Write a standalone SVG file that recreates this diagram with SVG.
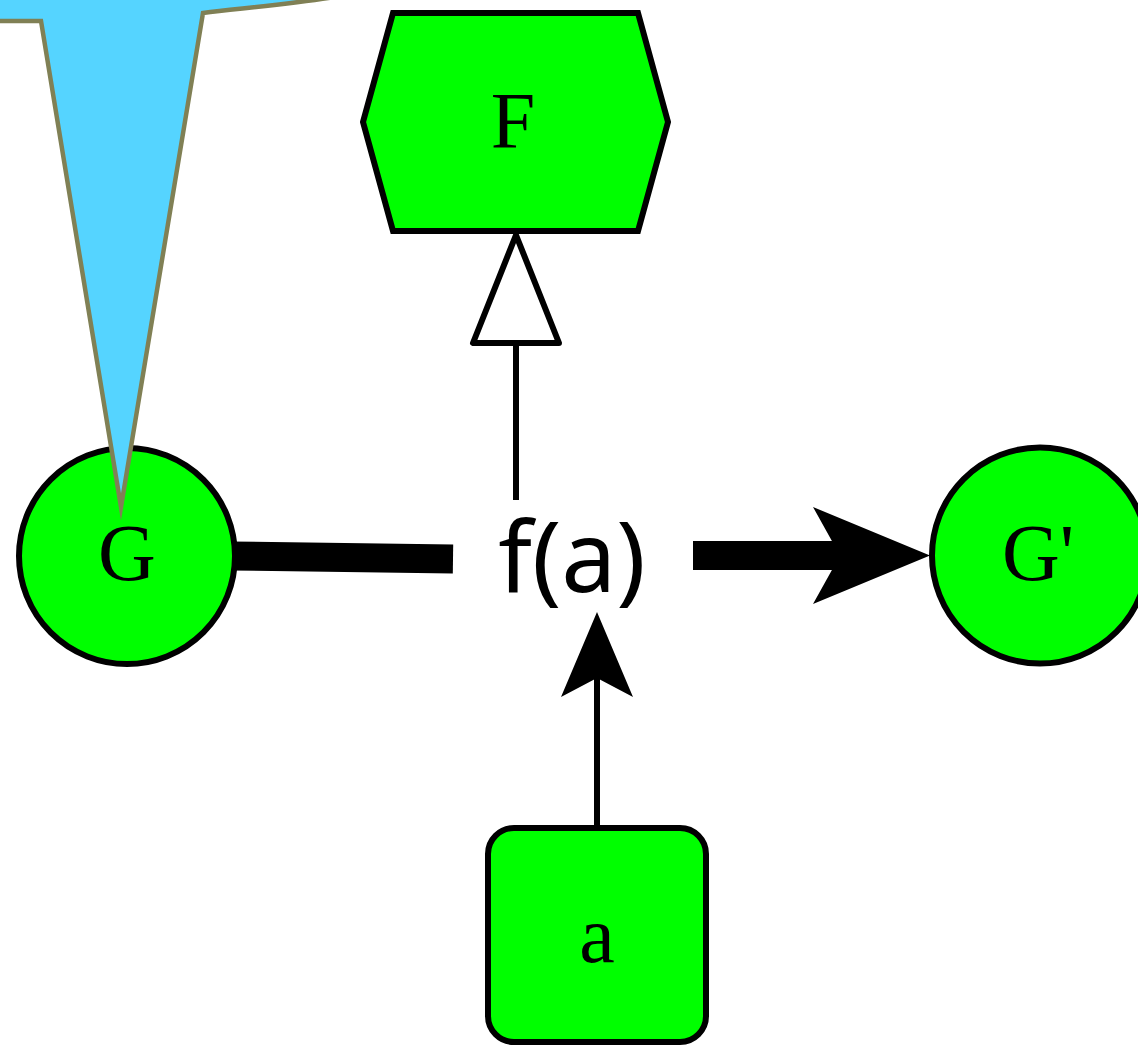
<svg xmlns="http://www.w3.org/2000/svg" width="1138" height="1046" viewBox="0 0 1138 1046">
<style>
.node{fill:#00ff00;stroke:#000;stroke-width:6}
.lbl{font-family:"Liberation Serif","DejaVu Serif",serif;font-size:80px;fill:#000;text-anchor:middle}
.thin{stroke:#000;stroke-width:6;fill:none}
</style>
<rect width="1138" height="1046" fill="#fff"/>
<g id="connectors">
<line x1="230" y1="556" x2="453" y2="559" stroke="#000" stroke-width="29"/>
<line x1="693" y1="555.5" x2="842" y2="555.5" stroke="#000" stroke-width="29"/>
<path d="M930,555.5 L813,507 L840,555.5 L813,604 Z" fill="#000"/>
<line class="thin" x1="516" y1="500" x2="516" y2="343"/>
<path d="M516,235 L473,343 L559,343 Z" fill="#fff" stroke="#000" stroke-width="6" stroke-linejoin="round"/>
<line class="thin" x1="597" y1="828" x2="597" y2="670"/>
<path d="M597,612 L561,697 L597,678 L633,697 Z" fill="#000"/>
</g>
<g id="node-G">
<circle class="node" cx="127" cy="556" r="108"/>
<text class="lbl" x="127" y="580">G</text>
</g>
<g id="node-Gp">
<circle class="node" cx="1040" cy="555.5" r="108"/>
<text class="lbl" x="1038" y="580">G'</text>
</g>
<g id="node-F">
<polygon class="node" points="393,13 638,13 668,122 638,231 393,231 363,122"/>
<text class="lbl" x="513" y="148">F</text>
</g>
<g id="node-a">
<rect class="node" x="488" y="828" width="218" height="214" rx="26"/>
<text class="lbl" x="597" y="962">a</text>
</g>
<g id="label-fa">
<text x="572" y="592" font-family="'Noto Sans','Open Sans',sans-serif" font-size="98" text-anchor="middle" fill="#000">f(a)</text>
</g>
<g id="callout">
<path d="M-20,21 L41,21 L121,507 L203,13 C245,8 290,4 335,-3 L335,-20 L-20,-20 Z" fill="#55d4ff" stroke="#808055" stroke-width="4.5" stroke-linejoin="miter" stroke-miterlimit="20"/>
</g>
</svg>
